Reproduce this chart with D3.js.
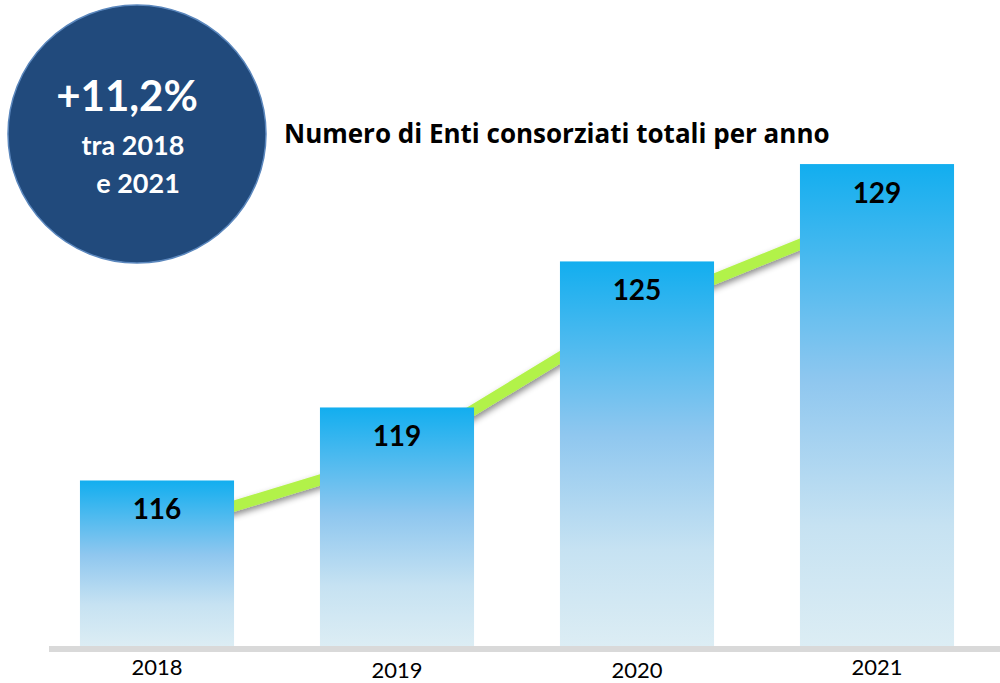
<!DOCTYPE html>
<html>
<head>
<meta charset="utf-8">
<script src="https://cdn.jsdelivr.net/npm/d3@7"></script>
<style>
  body { margin: 0; background: #fff; }
  svg { display: block; }
  .value { font-family: Lato, "Open Sans", sans-serif; font-weight: bold; font-size: 28px; fill: #000; }
  .year { font-family: Lato, "Open Sans", sans-serif; font-size: 22px; fill: #000; }
  .title { font-family: "Open Sans", Lato, sans-serif; font-weight: bold; font-size: 26px; fill: #000; }
  .badge { font-family: Lato, "Open Sans", sans-serif; font-weight: bold; fill: #fff; }
</style>
</head>
<body>
<svg id="chart" width="1000" height="683"></svg>
<script>
  // data
  const years = ['2018', '2019', '2020', '2021'];
  const enti = [116, 119, 125, 129];
  const titleText = 'Numero di Enti consorziati totali per anno';
  const badgeLines = ['+11,2%', 'tra 2018', 'e 2021'];

  const width = 1000, height = 683;
  const baseY = 646;

  const svg = d3.select('#chart');
  const defs = svg.append('defs');

  const grad = defs.append('linearGradient')
    .attr('id', 'barGrad')
    .attr('x1', 0).attr('y1', 0).attr('x2', 0).attr('y2', 1);
  grad.append('stop').attr('offset', '0%').attr('stop-color', '#12aeef');
  grad.append('stop').attr('offset', '45%').attr('stop-color', '#8fc7ef');
  grad.append('stop').attr('offset', '75%').attr('stop-color', '#c6e2f2');
  grad.append('stop').attr('offset', '100%').attr('stop-color', '#dcedf4');

  const shadow = defs.append('filter')
    .attr('id', 'shadow')
    .attr('x', '-10%').attr('y', '-30%').attr('width', '120%').attr('height', '160%');
  shadow.append('feDropShadow')
    .attr('dx', 2).attr('dy', 3).attr('stdDeviation', 3)
    .attr('flood-color', '#000').attr('flood-opacity', 0.45);

  const x = d3.scaleBand()
    .domain(years)
    .range([37, 997])
    .paddingInner(0.358)
    .paddingOuter(0.179);

  // axis does not start at zero in the original
  const y = d3.scaleLinear()
    .domain([109.2, 130])
    .range([baseY, baseY - 20.8 * 24.34]);

  const lineOffset = 49;
  const trend = d3.line()
    .x((d, i) => x(years[i]) + x.bandwidth() / 2)
    .y(d => y(d) + lineOffset);

  // green trend line behind the bars
  svg.append('path')
    .datum(enti)
    .attr('d', trend)
    .attr('fill', 'none')
    .attr('stroke', '#b2f24a')
    .attr('stroke-width', 11)
    .attr('filter', 'url(#shadow)');

  svg.append('g')
    .selectAll('rect')
    .data(enti)
    .join('rect')
    .attr('x', (d, i) => x(years[i]))
    .attr('y', d => y(d))
    .attr('width', x.bandwidth())
    .attr('height', d => baseY - y(d))
    .attr('fill', 'url(#barGrad)');

  svg.append('g')
    .selectAll('text')
    .data(enti)
    .join('text')
    .attr('class', 'value')
    .attr('x', (d, i) => x(years[i]) + x.bandwidth() / 2)
    .attr('y', d => y(d) + 39)
    .attr('text-anchor', 'middle')
    .text(d => d);

  // baseline
  svg.append('line')
    .attr('x1', 49).attr('x2', width)
    .attr('y1', baseY + 3).attr('y2', baseY + 3)
    .attr('stroke', '#d9d9d9')
    .attr('stroke-width', 6);

  svg.append('g')
    .selectAll('text')
    .data(years)
    .join('text')
    .attr('class', 'year')
    .attr('x', d => x(d) + x.bandwidth() / 2)
    .attr('y', (d, i) => i % 3 === 0 ? 675 : 678)
    .attr('text-anchor', 'middle')
    .text(d => d);

  svg.append('text')
    .attr('class', 'title')
    .attr('x', 284)
    .attr('y', 143)
    .text(titleText);

  // badge
  const badge = svg.append('g').attr('transform', 'translate(137,134)');
  badge.append('circle')
    .attr('r', 129)
    .attr('fill', '#214a7c')
    .attr('stroke', '#5b87bd')
    .attr('stroke-width', 1.5);
  badge.append('text')
    .attr('class', 'badge')
    .attr('x', -10).attr('y', -23)
    .attr('text-anchor', 'middle')
    .style('font-size', '42px')
    .text(badgeLines[0]);
  badge.append('text')
    .attr('class', 'badge')
    .attr('x', -4).attr('y', 21)
    .attr('text-anchor', 'middle')
    .style('font-size', '27px')
    .text(badgeLines[1]);
  badge.append('text')
    .attr('class', 'badge')
    .attr('x', 1).attr('y', 59)
    .attr('text-anchor', 'middle')
    .style('font-size', '27px')
    .text(badgeLines[2]);
</script>
</body>
</html>
